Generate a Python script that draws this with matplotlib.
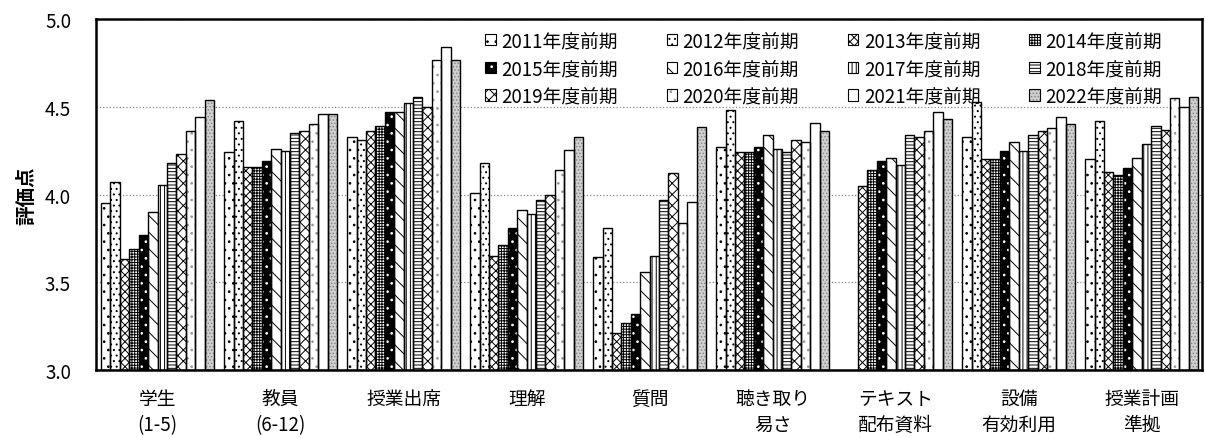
import numpy as np
import matplotlib.pyplot as plt
from matplotlib.patches import Patch

plt.rcParams['font.family'] = ['Noto Sans CJK JP', 'DejaVu Sans']
plt.rcParams['hatch.linewidth'] = 0.7

categories = ['学生\n(1-5)', '教員\n(6-12)', '授業出席', '理解', '質問',
              '聴き取り\n易さ', 'テキスト\n配布資料', '設備\n有効利用', '授業計画\n準拠']
series_labels = [f'{y}年度前期' for y in range(2011, 2023)]

# values per year, one entry per category (nan = no data)
v2011 = [3.95, 4.24, 4.33, 4.01, 3.645, 4.27, np.nan, 4.33, 4.20]
v2012 = [4.07, 4.42, 4.31, 4.18, 3.81, 4.48, np.nan, 4.53, 4.42]
v2013 = [3.63, 4.16, 4.365, 3.65, 3.21, 4.24, 4.05, 4.20, 4.13]
v2014 = [3.69, 4.16, 4.39, 3.715, 3.27, 4.24, 4.14, 4.20, 4.11]
v2015 = [3.77, 4.19, 4.47, 3.81, 3.32, 4.27, 4.19, 4.25, 4.15]
v2016 = [3.90, 4.26, 4.47, 3.91, 3.56, 4.34, 4.21, 4.30, 4.21]
v2017 = [4.055, 4.25, 4.52, 3.89, 3.65, 4.26, 4.17, 4.25, 4.29]
v2018 = [4.18, 4.35, 4.555, 3.97, 3.97, 4.24, 4.34, 4.34, 4.39]
v2019 = [4.23, 4.36, 4.50, 4.00, 4.125, 4.31, 4.33, 4.36, 4.37]
v2020 = [4.36, 4.40, 4.77, 4.14, 3.84, 4.30, 4.36, 4.38, 4.55]
v2021 = [4.44, 4.46, 4.84, 4.255, 3.96, 4.41, 4.47, 4.44, 4.50]
v2022 = [4.54, 4.46, 4.77, 4.33, 4.385, 4.36, 4.43, 4.40, 4.555]
values = [v2011, v2012, v2013, v2014, v2015, v2016,
          v2017, v2018, v2019, v2020, v2021, v2022]

# (facecolor, hatch colour, hatch) per series
styles = [
    ('white', 'black', '..'),
    ('white', 'black', '...'),
    ('white', 'black', 'xxxx'),
    ('white', 'black', '++++++'),
    ('black', 'white', '..'),
    ('white', 'black', '\\\\'),
    ('white', 'black', '||||'),
    ('white', 'black', '-----'),
    ('white', 'black', 'xxx'),
    ('white', '#999999', '..'),
    ('white', 'white', ''),
    ('#d0d0d0', '#888888', '.....'),
]

fig = plt.figure(figsize=(12.05, 4.39), dpi=100)
ax = fig.add_axes([0.0797, 0.155, 0.9178, 0.799])

x = np.arange(len(categories))
w = 0.0765
handles = []
for j, (vals, (fc, hc, hatch)) in enumerate(zip(values, styles)):
    pos = x + (j - 5.5) * w
    heights = np.array(vals, dtype=float) - 3.0
    ax.bar(pos, heights, w, bottom=3.0, color=fc, edgecolor=hc,
           hatch=hatch, linewidth=0, zorder=2)
    ax.bar(pos, heights, w, bottom=3.0, facecolor='none',
           edgecolor='black', linewidth=1.0, zorder=3)
    # legend proxy: hatched fill + black outline
    handles.append((Patch(facecolor=fc, edgecolor=hc, hatch=hatch, linewidth=0),
                    Patch(facecolor='none', edgecolor='black', linewidth=0.8)))

ax.set_xlim(-0.5, 8.49)
ax.set_ylim(3.0, 5.0)
ax.set_yticks([3.0, 3.5, 4.0, 4.5, 5.0])
ax.set_yticklabels(['3.0', '3.5', '4.0', '4.5', '5.0'], fontsize=13.5)
ax.set_xticks(x)
ax.set_xticklabels(categories, fontsize=13.5, linespacing=1.3)
ax.tick_params(axis='x', length=0, pad=13)
ax.tick_params(axis='y', length=0, pad=18)
ax.yaxis.grid(True, linestyle=':', color='#888888', linewidth=0.9, zorder=0)
ax.set_axisbelow(True)
for s in ax.spines.values():
    s.set_linewidth(1.8)
ax.set_ylabel('評価点', fontsize=14, fontweight='bold', labelpad=6)

# legend filled row by row (4 columns x 3 rows)
order = [r * 4 + c for c in range(4) for r in range(3)]
ax.legend([handles[i] for i in order], [series_labels[i] for i in order],
          ncol=4, loc='upper right', bbox_to_anchor=(0.974, 1.0),
          frameon=False, fontsize=13.5, handlelength=0.55, handleheight=0.55,
          handletextpad=0.3, columnspacing=2.6, labelspacing=0.35,
          borderaxespad=0.2)

plt.savefig('out.png', dpi=100)
